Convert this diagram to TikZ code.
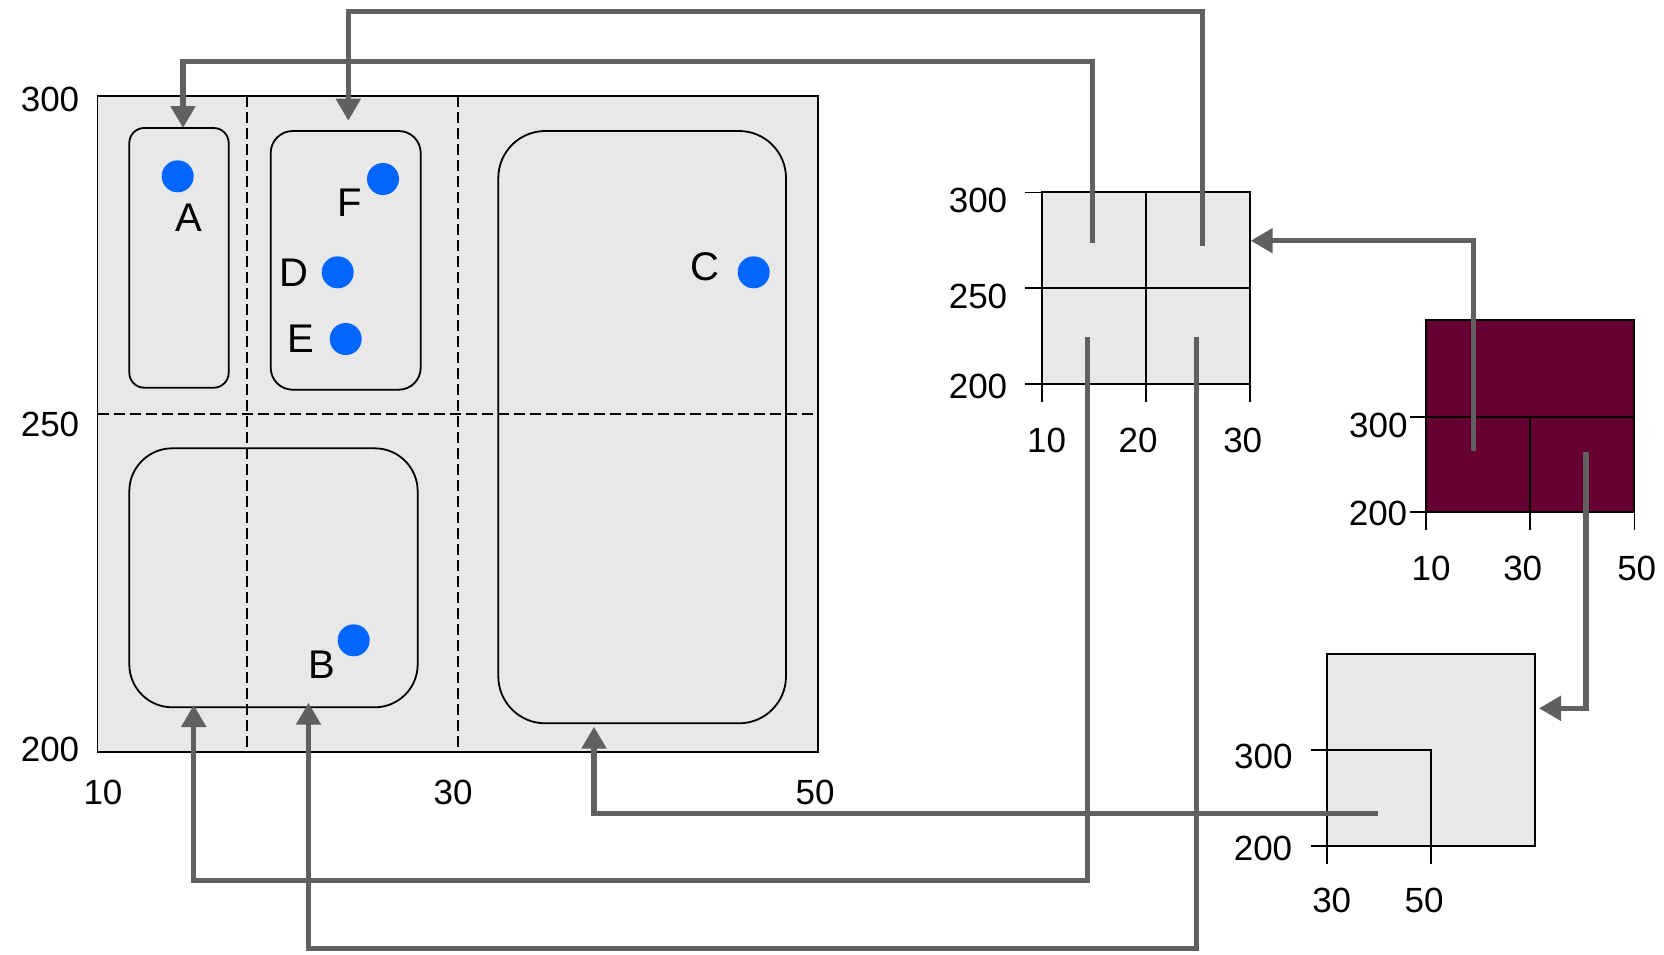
\documentclass[tikz,border=0pt]{standalone}
\usepackage{fontspec}
\setmainfont{Liberation Sans}
\usetikzlibrary{arrows.meta}
\definecolor{bggray}{HTML}{E8E8E8}
\definecolor{conngray}{HTML}{606060}
\definecolor{dotblue}{HTML}{0066FF}
\definecolor{maroonfill}{HTML}{660033}
\begin{document}
\begin{tikzpicture}[x=1pt,y=-1pt,
  panel/.style={draw=black,line width=1.8pt,fill=bggray,inner sep=0pt,outer sep=0pt},
  region/.style={draw=black,line width=1.8pt,inner sep=0pt,outer sep=0pt},
  sepline/.style={draw=black,line width=1.6pt,dash pattern=on 11pt off 5pt},
  gridline/.style={draw=black,line width=1.6pt},
  dot/.style={circle,fill=dotblue,inner sep=0pt,minimum size=32pt},
  ptlabel/.style={font=\fontsize{40}{40}\selectfont,inner sep=0pt},
  ticklabel/.style={font=\fontsize{35}{35}\selectfont,inner sep=0pt},
  conn/.style={draw=conngray,line width=5.2pt,line join=miter,-{Triangle[length=22pt,width=24pt]}}]
\useasboundingbox (0,0) rectangle (1664,954);

% main panel
\node[panel,minimum width=720.5pt,minimum height=656pt] (main) at (457.75,424) {};
\draw[sepline] (247,96) -- (247,752);
\draw[sepline] (458,96) -- (458,752);
\draw[sepline] (97.5,414) -- (818,414);

% regions
\node[region,rounded corners=15pt,minimum width=99.4pt,minimum height=259.7pt] (boxA) at (179,257.85) {};
\node[region,rounded corners=22pt,minimum width=150pt,minimum height=258.7pt] (boxDEF) at (345.7,260.35) {};
\node[region,rounded corners=43pt,minimum width=288.4pt,minimum height=259pt] (boxB) at (273.5,577.8) {};
\node[region,rounded corners=47pt,minimum width=287.7pt,minimum height=592.3pt] (boxC) at (642.15,427.15) {};

% dots and labels
\node[dot] (dA) at (177.7,176.3) {};
\node[dot] (dF) at (383,179) {};
\node[dot] (dD) at (337.7,272.3) {};
\node[dot] (dE) at (345.7,339) {};
\node[dot] (dC) at (753.7,272.3) {};
\node[dot] (dB) at (353.7,640.3) {};
\node[ptlabel] (lA) at (189,218) {A};
\node[ptlabel] (lF) at (350,203) {F};
\node[ptlabel] (lD) at (294.3,272.3) {D};
\node[ptlabel] (lE) at (301,339) {E};
\node[ptlabel] (lC) at (705,266.7) {C};
\node[ptlabel] (lB) at (322.3,665) {B};

% main axis labels
\node[ticklabel] (m300) at (50,99) {300};
\node[ticklabel] (m250) at (50,424) {250};
\node[ticklabel] (m200) at (50,749) {200};
\node[ticklabel] (m10) at (103,792) {10};
\node[ticklabel] (m30) at (453,792) {30};
\node[ticklabel] (m50) at (815,792) {50};

% grid 1
\node[panel,minimum width=207.7pt,minimum height=191.4pt] (gridA) at (1145.85,288) {};
\draw[gridline] (1025,192.3) -- (1249.7,192.3);
\draw[gridline] (1025,287.7) -- (1249.7,287.7);
\draw[gridline] (1025,383.7) -- (1249.7,383.7);
\draw[gridline] (1042,192.3) -- (1042,402.3);
\draw[gridline] (1146,192.3) -- (1146,402.3);
\draw[gridline] (1249.7,192.3) -- (1249.7,402.3);
\node[ticklabel] (g300) at (978,200.7) {300};
\node[ticklabel] (g250) at (978,296.7) {250};
\node[ticklabel] (g200) at (978,386.7) {200};
\node[ticklabel] (g10) at (1046.7,440) {10};
\node[ticklabel] (g20) at (1138,440) {20};
\node[ticklabel] (g30) at (1242.7,440) {30};

% maroon grid
\node[draw=black,line width=1.8pt,fill=maroonfill,inner sep=0pt,outer sep=0pt,minimum width=208.6pt,minimum height=191.4pt] (gridB) at (1530,416) {};
\draw[gridline] (1410,416.7) -- (1634.3,416.7);
\draw[gridline] (1410,511.7) -- (1634.3,511.7);
\draw[gridline] (1530,416.7) -- (1530,530);
\draw[gridline] (1425.7,511.7) -- (1425.7,530);
\draw[gridline] (1634.3,511.7) -- (1634.3,530);
\node[ticklabel] (b300) at (1378.3,425) {300};
\node[ticklabel] (b200) at (1378,513.3) {200};
\node[ticklabel] (b10) at (1431,568.3) {10};
\node[ticklabel] (b30) at (1522.7,568.3) {30};
\node[ticklabel] (b50) at (1636.7,568.3) {50};

% bottom box
\node[panel,minimum width=208.3pt,minimum height=192pt] (gridC) at (1431.15,749.7) {};
\draw[gridline] (1311,749.7) -- (1431,749.7) -- (1431,864);
\draw[gridline,line width=2.4pt] (1311,845.7) -- (1431,845.7);
\draw[gridline] (1327,845.7) -- (1327,864);
\node[ticklabel] (c300) at (1263.3,756.7) {300};
\node[ticklabel] (c200) at (1263,848.3) {200};
\node[ticklabel] (c30) at (1331.7,900) {30};
\node[ticklabel] (c50) at (1424,900) {50};

% connector end points
\coordinate (s1) at (1092.7,243.3);
\coordinate (t1) at (183,128);
\coordinate (s2) at (1202.3,245.7);
\coordinate (t2) at (348.3,120.7);
\coordinate (s3) at (1087.3,336.7);
\coordinate (t3) at (193.7,705);
\coordinate (s4) at (1196.7,336.7);
\coordinate (t4) at (308.5,702.7);
\coordinate (s5) at (1473.7,450.7);
\coordinate (t5) at (1250.7,240.7);
\coordinate (s6) at (1586,451.7);
\coordinate (t6) at (1539,708.3);
\coordinate (s7) at (1377.7,813.7);
\coordinate (t7) at (594,726.7);

% connectors
\draw[conn] (s1) -- (1092.7,61.7) -- (183,61.7) -- (t1);
\draw[conn] (s2) -- (1202.3,11.3) -- (348.3,11.3) -- (t2);
\draw[conn] (s3) -- (1087.3,880.7) -- (193.7,880.7) -- (t3);
\draw[conn] (s4) -- (1196.7,948.5) -- (308.5,948.5) -- (t4);
\draw[conn] (s5) -- (1473.7,240.7) -- (t5);
\draw[conn] (s6) -- (1586,708.3) -- (t6);
\draw[conn] (s7) -- (594,813.7) -- (t7);
\end{tikzpicture}
\end{document}
